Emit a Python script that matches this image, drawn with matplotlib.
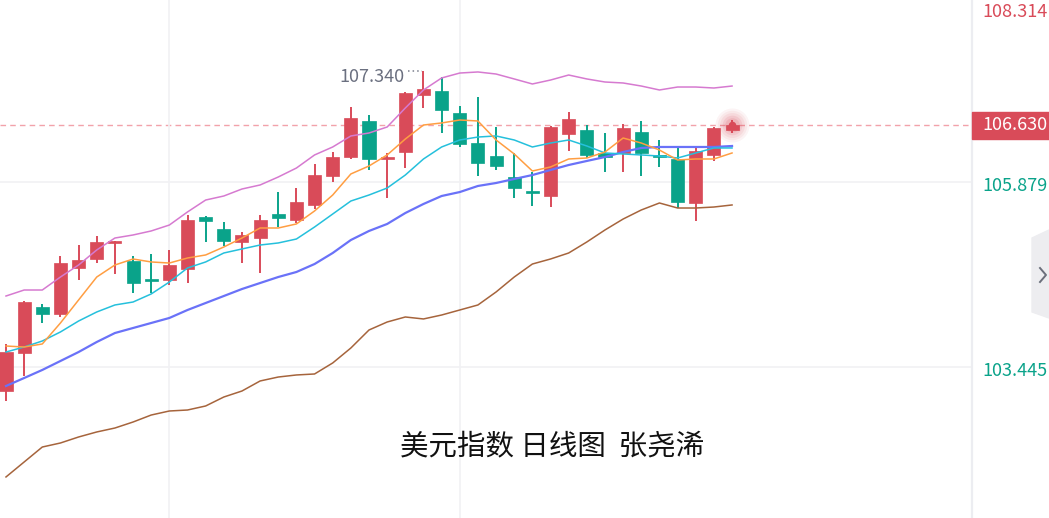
import numpy as np
import matplotlib
matplotlib.use("Agg")
import matplotlib.pyplot as plt
from matplotlib.patches import Rectangle, Polygon
from matplotlib.lines import Line2D

plt.rcParams['font.family'] = ['Noto Sans CJK SC', 'DejaVu Sans']

# --- daily candles (oldest -> newest) ---
opens = [103.130, 103.630, 104.235, 104.143, 104.748, 104.867, 105.077, 104.841, 104.591, 104.591,
         104.735, 105.419, 105.262, 105.091, 105.143, 105.459, 105.380, 105.577, 105.959, 106.209,
         106.683, 106.183, 106.275, 107.025, 107.077, 106.788, 106.393, 106.222, 105.946, 105.748,
         105.696, 106.512, 106.564, 106.262, 106.262, 106.538, 106.235, 106.183, 105.604, 106.235,
         106.564]
highs = [103.748, 104.310, 104.275, 104.906, 105.051, 105.169, 105.104, 104.906, 104.933, 104.985,
         105.446, 105.432, 105.354, 105.222, 105.446, 105.748, 105.801, 106.117, 106.275, 106.867,
         106.762, 106.262, 107.064, 107.340, 107.262, 106.880, 106.998, 106.604, 106.262, 106.012,
         106.620, 106.801, 106.630, 106.525, 106.643, 106.683, 106.433, 106.354, 106.327, 106.600,
         106.696]
lows = [102.998, 103.327, 104.025, 104.104, 104.591, 104.814, 104.669, 104.419, 104.419, 104.525,
        104.551, 105.091, 105.038, 104.814, 104.683, 105.288, 105.341, 105.525, 105.880, 106.183,
        106.038, 105.669, 106.064, 106.854, 106.525, 106.341, 105.959, 106.038, 105.669, 105.564,
        105.551, 106.288, 106.196, 106.012, 106.012, 105.959, 106.077, 105.538, 105.367, 106.156,
        106.525]
closes = [103.643, 104.301, 104.143, 104.814, 104.854, 105.091, 105.104, 104.551, 104.577, 104.788,
          105.380, 105.367, 105.104, 105.183, 105.380, 105.406, 105.617, 105.972, 106.209, 106.722,
          106.183, 106.209, 107.051, 107.104, 106.827, 106.380, 106.130, 106.091, 105.801, 105.735,
          106.604, 106.709, 106.235, 106.209, 106.591, 106.262, 106.209, 105.617, 106.288, 106.591,
          106.630]

# --- moving averages / bands ---
ma5 = [103.722, 103.709, 103.749, 104.025, 104.328, 104.630, 104.788, 104.867, 104.828, 104.814,
       104.880, 104.920, 105.025, 105.143, 105.275, 105.275, 105.328, 105.499, 105.709, 105.986,
       106.091, 106.236, 106.446, 106.630, 106.657, 106.696, 106.683, 106.433, 106.249, 106.025,
       106.078, 106.183, 106.196, 106.275, 106.459, 106.393, 106.301, 106.170, 106.183, 106.183,
       106.262]
ma10 = [103.643, 103.709, 103.788, 103.907, 104.051, 104.170, 104.262, 104.301, 104.407, 104.564,
        104.749, 104.828, 104.946, 104.999, 105.051, 105.078, 105.130, 105.288, 105.459, 105.630,
        105.709, 105.801, 105.972, 106.183, 106.341, 106.433, 106.472, 106.486, 106.433, 106.341,
        106.393, 106.433, 106.354, 106.262, 106.249, 106.236, 106.222, 106.196, 106.262, 106.328,
        106.328]
ma20 = [103.196, 103.301, 103.407, 103.525, 103.643, 103.775, 103.893, 103.959, 104.025, 104.091,
        104.196, 104.288, 104.380, 104.472, 104.551, 104.630, 104.696, 104.801, 104.946, 105.117,
        105.236, 105.328, 105.472, 105.591, 105.696, 105.748, 105.828, 105.867, 105.920, 105.972,
        106.038, 106.104, 106.157, 106.209, 106.275, 106.328, 106.341, 106.341, 106.341, 106.341,
        106.354]
upper = [104.380, 104.459, 104.459, 104.630, 104.788, 104.986, 105.143, 105.183, 105.236, 105.314,
         105.486, 105.643, 105.696, 105.788, 105.841, 105.946, 106.064, 106.236, 106.341, 106.486,
         106.525, 106.604, 106.854, 107.091, 107.249, 107.314, 107.328, 107.301, 107.236, 107.170,
         107.222, 107.288, 107.236, 107.196, 107.183, 107.143, 107.091, 107.130, 107.130, 107.117,
         107.143]
lower = [101.999, 102.196, 102.393, 102.446, 102.525, 102.591, 102.643, 102.722, 102.814, 102.867,
         102.880, 102.933, 103.051, 103.130, 103.262, 103.314, 103.341, 103.354, 103.499, 103.696,
         103.933, 104.038, 104.104, 104.078, 104.130, 104.196, 104.262, 104.433, 104.630, 104.801,
         104.867, 104.946, 105.091, 105.249, 105.393, 105.512, 105.604, 105.538, 105.538, 105.551,
         105.578]

last_price = 106.630
top_label = "108.314"
axis_ticks = [103.445, 105.879]
grid_days = [9, 25]
title = "美元指数 日线图  张尧浠"

RED = '#D94B59'
GREEN = '#0AA38A'

W, H = 1049, 518
fig = plt.figure(figsize=(W / 100, H / 100), dpi=100)
fig.patch.set_facecolor('white')
ax = fig.add_axes([0, 0, 972 / W, 1])

n = len(opens)
x = np.arange(n)
o = np.array(opens); c = np.array(closes)
up = c >= o
colors = np.where(up, RED, GREEN)

# grid
ax.set_yticks(axis_ticks)
ax.set_xticks(grid_days)
ax.grid(True, color='#F1F1F4', lw=1.2, zorder=0)
ax.tick_params(length=0, labelbottom=False, labelleft=False, labelright=False)

for s in ['top', 'left', 'bottom']:
    ax.spines[s].set_visible(False)
ax.spines['right'].set_color('#ECEDF1')
ax.spines['right'].set_linewidth(1.6)

# last price dashed line
ax.axhline(last_price, color='#F2A2AA', lw=1.0, ls=(0, (4, 3)), zorder=1)

# candles
ax.vlines(x, lows, highs, color=colors, lw=1.4, zorder=2)
body_lo = np.minimum(o, c)
body_h = np.maximum(np.abs(c - o), 0.028)
ax.bar(x, body_h, bottom=body_lo, width=0.72, color=colors, edgecolor=colors,
       lw=0.5, zorder=3)

# lines
ax.plot(x, upper, color='#D67AD0', lw=1.1, zorder=4)
ax.plot(x, lower, color='#A6643C', lw=1.1, zorder=4)
ax.plot(x, ma20, color='#6A72F8', lw=1.6, zorder=4)
ax.plot(x, ma10, color='#25C0DC', lw=1.1, zorder=4)
ax.plot(x, ma5, color='#FF9E42', lw=1.1, zorder=4)

# glow on last candle
for s_, a_ in [(600, 0.06), (450, 0.07), (320, 0.09), (200, 0.12), (110, 0.15)]:
    ax.scatter([n - 1], [last_price], s=s_, color=RED, alpha=a_, lw=0, zorder=5)
ax.scatter([n - 1], [last_price], s=30, color=RED, lw=0, zorder=6)

# max high annotation
imax = int(np.argmax(highs))
ax.hlines(highs[imax], imax - 0.85, imax - 0.08, color='#7A7F8C', lw=1.1,
          linestyles=(0, (1, 2)), zorder=5)
ax.annotate(f"{highs[imax]:.3f}", xy=(imax - 0.9, highs[imax]), xytext=(-2, -4),
            textcoords='offset points', ha='right', va='center',
            fontsize=13, color='#6B7080', zorder=6)

ax.set_xlim(-0.33, 53.22)
ax.set_ylim(101.459, 108.275)

# right axis labels
ytr = ax.get_yaxis_transform()
for v in axis_ticks:
    ax.annotate(f"{v:.3f}", xy=(1 + 10 / 972, v), xycoords=ytr, xytext=(0, -3),
                textcoords='offset points', color=GREEN, fontsize=13,
                ha='left', va='center', annotation_clip=False)
ax.add_patch(Rectangle((1.0, last_price - 13.5 / 76), (W - 972) / 972, 27 / 76,
                       transform=ytr, color=RED, clip_on=False, zorder=6))
ax.text(1 + 10 / 972, last_price, f"{last_price:.3f}", transform=ytr, color='white',
        fontsize=13, ha='left', va='center', zorder=7, clip_on=False)
ax.text(1 + 10 / 972, 1 - 12 / H, top_label, transform=ax.transAxes, color=RED,
        fontsize=13, ha='left', va='center', clip_on=False)

# side tab
def px(xp, yp):
    return (xp / W, 1 - yp / H)

tab = Polygon([px(1049, 230), px(1032, 238), px(1032, 312), px(1049, 318)],
              closed=True, transform=fig.transFigure, color='#EDEDF0', zorder=1)
fig.patches.append(tab)
arrow = Line2D(*zip(px(1040, 268), px(1046, 275), px(1040, 282)),
               transform=fig.transFigure, color='#6B6F7B', lw=1.4)
fig.lines.append(arrow)

# title text
fig.text(552 / W, 1 - 446 / H, title, fontsize=20.5, color='#111111',
         ha='center', va='center')

fig.savefig('out.png', dpi=100, facecolor='white')
